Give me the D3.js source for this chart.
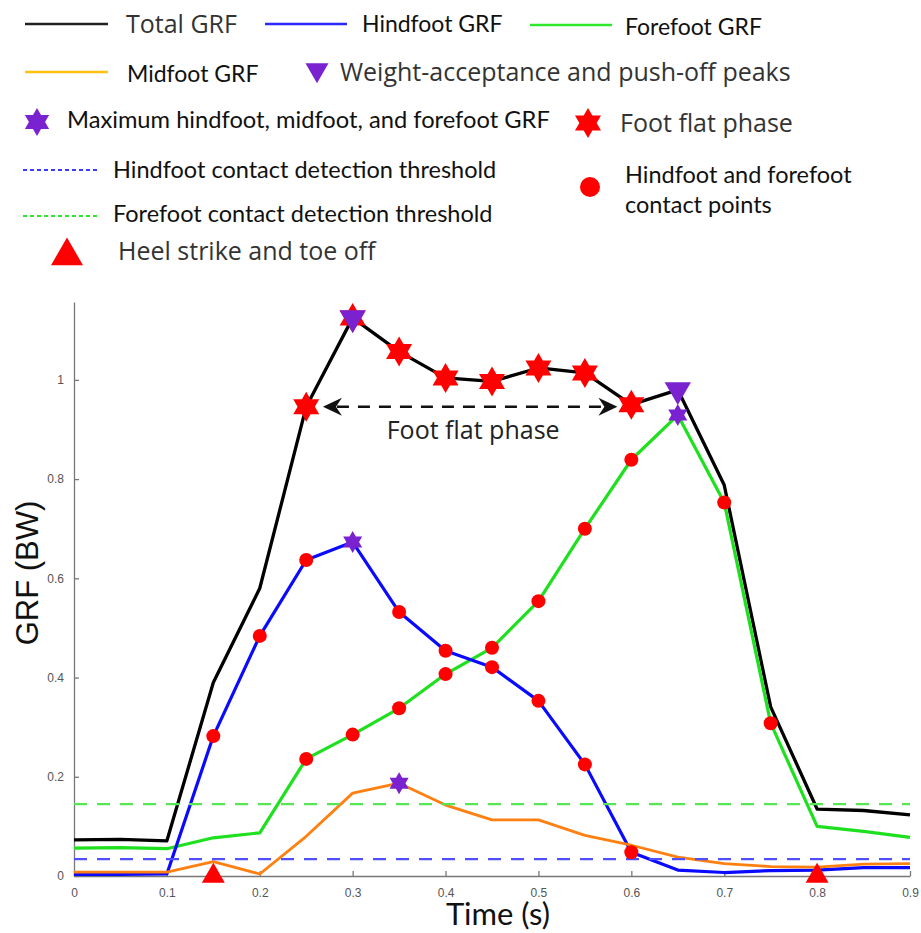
<!DOCTYPE html>
<html>
<head>
<meta charset="utf-8">
<script src="https://cdn.jsdelivr.net/npm/d3@7"></script>
<style>
  body { margin: 0; background: #fff; }
</style>
</head>
<body>
<svg id="chart" width="921" height="933"></svg>
<script>
// ---- data ----
const times = [0, 0.05, 0.1, 0.15, 0.2, 0.25, 0.3, 0.35, 0.4, 0.45, 0.5, 0.55, 0.6, 0.65, 0.7, 0.75, 0.8, 0.85, 0.9];
const totalGRF = [0.073, 0.074, 0.071, 0.39, 0.58, 0.946, 1.125, 1.057, 1.004, 0.997, 1.024, 1.014, 0.95, 0.98, 0.788, 0.341, 0.135, 0.132, 0.123];
const hindGRF = [0.003, 0.003, 0.004, 0.282, 0.484, 0.637, 0.673, 0.532, 0.454, 0.421, 0.353, 0.225, 0.048, 0.012, 0.007, 0.011, 0.012, 0.017, 0.017];
const foreGRF = [0.056, 0.057, 0.055, 0.077, 0.087, 0.236, 0.285, 0.338, 0.407, 0.46, 0.554, 0.7, 0.839, 0.929, 0.753, 0.308, 0.1, 0.09, 0.078];
const midGRF = [0.008, 0.008, 0.008, 0.029, 0.004, 0.08, 0.167, 0.187, 0.143, 0.113, 0.113, 0.082, 0.062, 0.038, 0.025, 0.019, 0.018, 0.024, 0.025];

const hindThreshold = 0.034;
const foreThreshold = 0.145;

const footFlatTimes = [0.25, 0.3, 0.35, 0.4, 0.45, 0.5, 0.55, 0.6];      // on total GRF
const peakTimes = [0.3, 0.65];                                           // weight acceptance / push-off
const hindMaxTime = 0.3, midMaxTime = 0.35, foreMaxTime = 0.65;
const hindContactTimes = [0.15, 0.2, 0.25, 0.35, 0.4, 0.45, 0.5, 0.55, 0.6];
const foreContactTimes = [0.25, 0.3, 0.35, 0.4, 0.45, 0.5, 0.55, 0.6, 0.7, 0.75];
const heelToeTimes = [0.15, 0.8];

const arrowFrom = 0.268, arrowTo = 0.585, arrowLevel = 0.946;

const xTicks = [0, 0.1, 0.2, 0.3, 0.4, 0.5, 0.6, 0.7, 0.8, 0.9];
const yTicks = [0, 0.2, 0.4, 0.6, 0.8, 1];

// ---- colours ----
const RED = '#ff0000';
const PURPLE = '#7a22d0';

const svg = d3.select('#chart');

const margin = { top: 302, right: 11, bottom: 57, left: 74 };
const width = 921, height = 933;

const x = d3.scaleLinear().domain([0, 0.9]).range([margin.left, width - margin.right]);
const y = d3.scaleLinear().domain([0, 1.157]).range([height - margin.bottom, margin.top]);

const valueAt = (series, t) => series[times.indexOf(t)];

// six-pointed star as a d3 symbol type (size = outer radius squared)
const hexagram = {
  draw(context, size) {
    const r = Math.sqrt(size);
    const ri = r / Math.sqrt(3);
    for (let i = 0; i < 12; i++) {
      const a = -Math.PI / 2 + i * Math.PI / 6;
      const rr = i % 2 ? ri : r;
      if (i === 0) context.moveTo(rr * Math.cos(a), rr * Math.sin(a));
      else context.lineTo(rr * Math.cos(a), rr * Math.sin(a));
    }
    context.closePath();
  }
};

// ---- axes ----
const xAxis = svg.append('g')
  .attr('transform', `translate(0, ${y(0)})`)
  .call(d3.axisBottom(x).tickValues(xTicks).tickFormat(d3.format('~g'))
    .tickSizeInner(-5).tickSizeOuter(0).tickPadding(12));

const yAxis = svg.append('g')
  .attr('transform', `translate(${x(0)}, 0)`)
  .call(d3.axisLeft(y).tickValues(yTicks).tickFormat(d3.format('~g'))
    .tickSizeInner(-5).tickSizeOuter(0).tickPadding(10));

[xAxis, yAxis].forEach((g) => {
  g.select('.domain').attr('stroke', '#777').attr('stroke-width', 1.3);
  g.selectAll('.tick line').attr('stroke', '#777').attr('stroke-width', 1.3);
  g.selectAll('.tick text')
    .attr('fill', '#555')
    .style('font', '12px "Liberation Sans", Arial, sans-serif');
});

svg.append('text')
  .attr('x', (x(0) + x(0.9)) / 2 + 6)
  .attr('y', 925)
  .attr('text-anchor', 'middle')
  .attr('fill', '#111')
  .style('font', '31px Lato, sans-serif')
  .text('Time (s)');

svg.append('text')
  .attr('transform', `translate(38, ${573}) rotate(-90)`)
  .attr('text-anchor', 'middle')
  .attr('fill', '#111')
  .style('font', '31px "Liberation Sans", Arial, sans-serif')
  .text('GRF (BW)');

// ---- lines ----
const line = (series) => d3.line()
  .x((d, i) => x(times[i]))
  .y((d) => y(d))(series);

const seriesList = [
  { values: totalGRF, color: '#000000', w: 3.3 },
  { values: foreGRF, color: '#1ee01e', w: 3.2 },
  { values: hindGRF, color: '#0a0aff', w: 3.2 },
  { values: midGRF, color: '#ff8010', w: 2.8 }
];

seriesList.forEach((s) => {
  svg.append('path')
    .attr('d', line(s.values))
    .attr('fill', 'none')
    .attr('stroke', s.color)
    .attr('stroke-width', s.w)
    .attr('stroke-linejoin', 'round');
});

// ---- thresholds ----
[{ v: foreThreshold, color: '#55e655' }, { v: hindThreshold, color: '#4f4fff' }].forEach((th) => {
  svg.append('line')
    .attr('x1', x(0)).attr('x2', x(0.9))
    .attr('y1', y(th.v)).attr('y2', y(th.v))
    .attr('stroke', th.color)
    .attr('stroke-width', 2.2)
    .attr('stroke-dasharray', '13,10');
});

// ---- foot flat arrow ----
const ay = y(arrowLevel);
const ax1 = x(arrowFrom), ax2 = x(arrowTo);
svg.append('line')
  .attr('x1', ax1 + 14).attr('x2', ax2 - 14)
  .attr('y1', ay).attr('y2', ay)
  .attr('stroke', '#111')
  .attr('stroke-width', 2.4)
  .attr('stroke-dasharray', '12,9');
[{ tip: ax1, dir: 1 }, { tip: ax2, dir: -1 }].forEach((a) => {
  svg.append('path')
    .attr('d', `M${a.tip},${ay}L${a.tip + a.dir * 19},${ay - 9}L${a.tip + a.dir * 13},${ay}L${a.tip + a.dir * 19},${ay + 9}Z`)
    .attr('fill', '#111');
});
svg.append('text')
  .attr('x', (ax1 + ax2) / 2 + 3)
  .attr('y', ay + 32)
  .attr('text-anchor', 'middle')
  .attr('fill', '#222')
  .style('font', '25px "Open Sans", sans-serif')
  .text('Foot flat phase');

// ---- markers ----
const symbolPath = (type, size) => d3.symbol().type(type).size(size)();

function addMarkers(points, type, size, color, rotate) {
  svg.append('g').selectAll('path')
    .data(points)
    .join('path')
    .attr('d', symbolPath(type, size))
    .attr('transform', (d) => `translate(${x(d.t)}, ${y(d.v)})${rotate ? ' rotate(180)' : ''}`)
    .attr('fill', color);
}

addMarkers(hindContactTimes.map((t) => ({ t, v: valueAt(hindGRF, t) })), d3.symbolCircle, Math.PI * 49, RED);
addMarkers(foreContactTimes.map((t) => ({ t, v: valueAt(foreGRF, t) })), d3.symbolCircle, Math.PI * 49, RED);
addMarkers(footFlatTimes.map((t) => ({ t, v: valueAt(totalGRF, t) })), hexagram, 15 * 15, RED);
addMarkers(peakTimes.map((t) => ({ t, v: valueAt(totalGRF, t) })), d3.symbolTriangle, 300, PURPLE, true);
addMarkers([
  { t: hindMaxTime, v: valueAt(hindGRF, hindMaxTime) },
  { t: midMaxTime, v: valueAt(midGRF, midMaxTime) },
  { t: foreMaxTime, v: valueAt(foreGRF, foreMaxTime) }
], hexagram, 11 * 11, PURPLE);
addMarkers(heelToeTimes.map((t) => ({ t, v: 0 })), d3.symbolTriangle, 229, RED);

// ---- legend ----
const legend = svg.append('g');
const LATO = 'Lato, sans-serif';
const OPEN = '"Open Sans", sans-serif';

function legendLine(x1, x2, yy, color, dash) {
  legend.append('line')
    .attr('x1', x1).attr('x2', x2).attr('y1', yy).attr('y2', yy)
    .attr('stroke', color).attr('stroke-width', dash ? 2 : 2.4)
    .attr('stroke-dasharray', dash || null);
}
function legendSymbol(cx, cy, type, size, color, rotate) {
  legend.append('path')
    .attr('d', symbolPath(type, size))
    .attr('transform', `translate(${cx}, ${cy})${rotate ? ' rotate(180)' : ''}`)
    .attr('fill', color);
}
function legendText(tx, ty, txt, font, color) {
  legend.append('text')
    .attr('x', tx).attr('y', ty)
    .attr('fill', color || '#111')
    .style('font', font)
    .text(txt);
}

legendLine(25, 108, 24, '#222');
legendText(126, 33, 'Total GRF', `25px ${OPEN}`, '#333');
legendLine(265, 347, 24, '#2a2aff');
legendText(362, 32, 'Hindfoot GRF', `23px ${LATO}`);
legendLine(530, 612, 25, '#2ee82e');
legendText(625, 35, 'Forefoot GRF', `23px ${LATO}`);

legendLine(25, 108, 72, '#ffc010');
legendText(127, 82, 'Midfoot GRF', `23px ${LATO}`);
legendSymbol(317, 70, d3.symbolTriangle, 229, PURPLE, true);
legendText(340, 81, 'Weight-acceptance and push-off peaks', `25px ${OPEN}`, '#333');

legendSymbol(37, 122, hexagram, 14 * 14, PURPLE);
legendText(67, 128, 'Maximum hindfoot, midfoot, and forefoot GRF', `23.7px ${LATO}`);
legendSymbol(588, 123, hexagram, 15 * 15, RED);
legendText(620, 132, 'Foot flat phase', `25px ${OPEN}`, '#333');

legendLine(23, 100, 170, '#3b3bff', '4,3');
legendText(113, 178, 'Hindfoot contact detection threshold', `23.5px ${LATO}`);
legendSymbol(590, 187, d3.symbolCircle, Math.PI * 100, RED);
legendText(625, 183, 'Hindfoot and forefoot', `23.5px ${LATO}`);
legendText(625, 213, 'contact points', `23.5px ${LATO}`);

legendLine(23, 100, 216, '#2ee82e', '4,3');
legendText(113, 222, 'Forefoot contact detection threshold', `23.5px ${LATO}`);

legendSymbol(67, 256, d3.symbolTriangle, 443, RED);
legendText(118, 260, 'Heel strike and toe off', `25px ${OPEN}`, '#333');
</script>
</body>
</html>
